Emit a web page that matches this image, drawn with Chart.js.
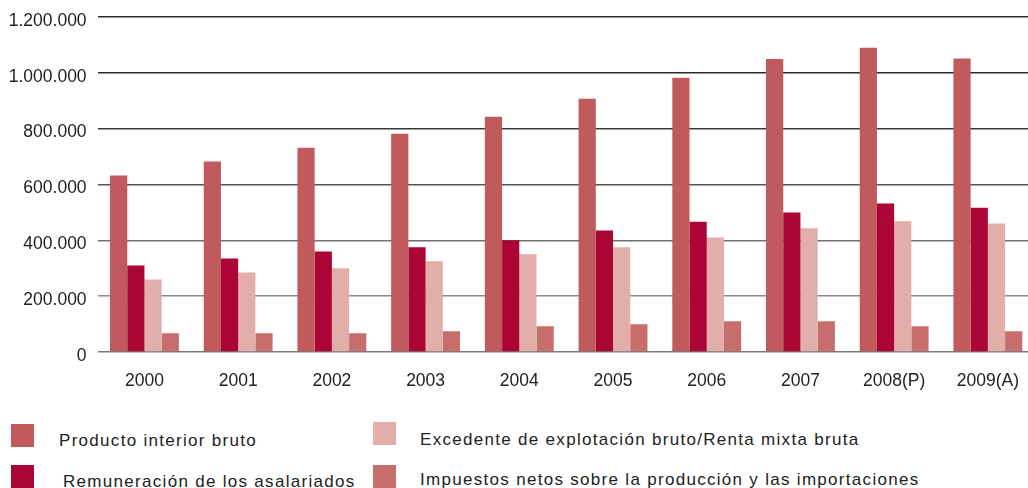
<!DOCTYPE html>
<html>
<head>
<meta charset="utf-8">
<script src="https://cdn.jsdelivr.net/npm/chart.js@4/dist/chart.umd.min.js"></script>
<style>
  html, body { margin: 0; padding: 0; background: #fff; overflow: hidden; width: 1028px; height: 488px; }
  #wrap { position: absolute; left: 0; top: 0; width: 1038px; height: 411px; }
  .leg { position: absolute; font-family: "Liberation Sans", Arial, sans-serif; font-size: 17px; letter-spacing: 1.3px; line-height: normal; color: #222; white-space: nowrap; }
  .sw { position: absolute; width: 23px; height: 23px; }
</style>
</head>
<body>
<div id="wrap"><canvas id="c"></canvas></div>
<div id="legend"></div>
<script>
const categories = ['2000', '2001', '2002', '2003', '2004', '2005', '2006', '2007', '2008(P)', '2009(A)'];
const seriesNames = [
  'Producto interior bruto',
  'Remuneración de los asalariados',
  'Excedente de explotación bruto/Renta mixta bruta',
  'Impuestos netos sobre la producción y las importaciones'
];
const pib = [632000, 682000, 732000, 782000, 843000, 907000, 982000, 1050000, 1090000, 1051000];
const remuneracion = [310000, 335000, 360000, 375000, 400000, 435000, 467000, 500000, 532000, 517000];
const excedente = [260000, 285000, 300000, 325000, 350000, 375000, 410000, 443000, 468000, 460000];
const impuestos = [67000, 67000, 67000, 74000, 92000, 99000, 110000, 110000, 92000, 74000];
const yTickLabels = ['0', '200.000', '400.000', '600.000', '800.000', '1.000.000', '1.200.000'];

const colors = ['#C05A5D', '#AA0534', '#E1AEAA', '#C76E6C'];
const seriesValues = [pib, remuneracion, excedente, impuestos];

const gridColors = ['#7a7a7a', '#8a8a8a', '#707070', '#555555', '#3a3a3a', '#2a2a2a', '#2a2a2a'];

new Chart(document.getElementById('c'), {
  type: 'bar',
  data: {
    labels: categories,
    datasets: seriesValues.map((v, i) => ({
      label: seriesNames[i],
      data: v,
      backgroundColor: colors[i],
      borderWidth: 0,
      barPercentage: 1.0,
      categoryPercentage: 0.735
    }))
  },
  options: {
    responsive: true,
    maintainAspectRatio: false,
    animation: false,
    layout: { padding: { top: 17, left: 0, right: 0, bottom: 0 } },
    plugins: { legend: { display: false }, tooltip: { enabled: false } },
    scales: {
      x: {
        grid: { display: false, drawTicks: false },
        border: { display: false },
        ticks: {
          color: '#222',
          padding: 19,
          font: { family: '"Liberation Sans", Arial, sans-serif', size: 17.5 }
        }
      },
      y: {
        min: 0,
        max: 1200000,
        afterFit: (s) => { s.width = 97.6; s.paddingTop = 0; },
        grid: {
          drawTicks: false,
          lineWidth: 1.6,
          color: (ctx) => gridColors[ctx.index] || '#888'
        },
        border: { display: false },
        ticks: {
          stepSize: 200000,
          padding: 11,
          labelOffset: 4,
          color: '#1e1e1e',
          font: { family: '"Liberation Sans", Arial, sans-serif', size: 17.5 },
          callback: (v, i) => yTickLabels[i]
        }
      }
    }
  }
});

// Legend (two columns)
const legPos = [
  { sx: 11, sy: 424, tx: 59, ty: 431 },
  { sx: 11, sy: 465, tx: 63, ty: 472 },
  { sx: 373, sy: 422, tx: 420, ty: 430 },
  { sx: 373, sy: 465, tx: 420, ty: 470 }
];
const legend = document.getElementById('legend');
seriesNames.forEach((name, i) => {
  const p = legPos[i];
  const sw = document.createElement('div');
  sw.className = 'sw';
  sw.style.left = p.sx + 'px';
  sw.style.top = p.sy + 'px';
  sw.style.background = colors[i];
  legend.appendChild(sw);
  const t = document.createElement('div');
  t.className = 'leg';
  t.style.left = p.tx + 'px';
  t.style.top = p.ty + 'px';
  t.textContent = name;
  legend.appendChild(t);
});
</script>
</body>
</html>
